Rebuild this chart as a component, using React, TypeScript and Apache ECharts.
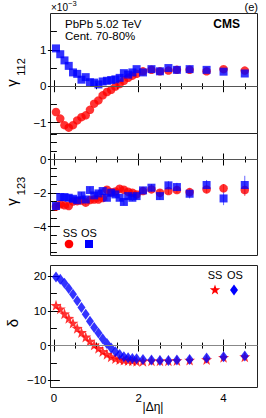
import React, { useEffect, useRef } from "react";
import * as echarts from "echarts";

// |Δη| bin centres
const deta = [0.05, 0.15, 0.25, 0.35, 0.45, 0.55, 0.65, 0.75, 0.85, 0.95, 1.05, 1.15, 1.25, 1.35, 1.45, 1.55, 1.65, 1.75, 1.85, 1.95, 2.1, 2.3, 2.5, 2.7, 2.9, 3.2, 3.6, 4.0, 4.5];

// γ112 (×10^-3)
const g112SS = [-0.71, -0.89, -1.07, -1.14, -1.07, -0.94, -0.85, -0.8, -0.65, -0.48, -0.39, -0.25, -0.16, -0.1, -0.01, 0.06, 0.15, 0.23, 0.29, 0.34, 0.41, 0.45, 0.41, 0.43, 0.45, 0.45, 0.41, 0.47, 0.43];
const g112OS = [1.04, 0.88, 0.71, 0.56, 0.38, 0.34, 0.18, 0.25, 0.11, 0.1, 0.05, 0.13, 0.15, 0.17, 0.19, 0.23, 0.36, 0.32, 0.38, 0.47, 0.38, 0.47, 0.41, 0.5, 0.45, 0.47, 0.45, 0.4, 0.35];

// γ123 (×10^-3)
const g123SS = [-2.81, -2.67, -2.73, -2.77, -2.5, -2.48, -2.45, -2.57, -2.42, -2.38, -2.38, -2.3, -1.8, -1.95, -1.9, -1.74, -1.8, -1.92, -1.98, -2.08, -1.88, -1.78, -1.98, -1.88, -1.82, -1.94, -1.78, -1.72, -1.82];
const g123SSerr = [0.15, 0.15, 0.15, 0.15, 0.15, 0.15, 0.15, 0.15, 0.15, 0.15, 0.15, 0.15, 0.15, 0.15, 0.15, 0.15, 0.15, 0.15, 0.15, 0.15, 0.15, 0.15, 0.18, 0.18, 0.18, 0.2, 0.22, 0.25, 0.35];
const g123OS = [-2.77, -2.24, -2.24, -2.28, -2.34, -2.43, -2.14, -2.38, -1.82, -2.14, -2.02, -1.88, -2.28, -1.98, -2.08, -2.28, -2.53, -2.18, -2.28, -2.18, -1.84, -1.68, -2.18, -1.54, -1.64, -2.04, -1.52, -2.32, -1.52];
const g123OSerr = [0.2, 0.2, 0.2, 0.2, 0.2, 0.2, 0.2, 0.2, 0.2, 0.2, 0.2, 0.2, 0.2, 0.2, 0.2, 0.2, 0.2, 0.2, 0.2, 0.2, 0.2, 0.22, 0.22, 0.25, 0.25, 0.28, 0.3, 0.4, 0.55];

// δ
const deltaSS = [11.6, 10.6, 9.2, 7.9, 6.5, 5.0, 3.8, 2.5, 1.3, 0.2, -0.8, -1.7, -2.5, -3.2, -3.7, -4.0, -4.2, -4.3, -4.4, -4.5, -4.5, -4.4, -4.4, -4.4, -4.3, -4.2, -4.0, -3.4, -3.2];
const deltaOS = [19.8, 19.1, 18.0, 16.5, 14.8, 12.9, 11.0, 9.0, 7.0, 5.2, 3.6, 2.0, 0.6, -0.7, -1.8, -2.6, -3.2, -3.5, -3.7, -3.8, -4.0, -4.2, -4.3, -4.3, -4.2, -4.0, -3.6, -3.2, -3.0];

// ticks
const xMajor = [0, 2, 4];
const xMinor = [0.5, 1, 1.5, 2.5, 3, 3.5, 4.5];
const y1Major = [-1, 0, 1];
const y1Minor = [-0.5, 0.5, 1.5];
const y2Major = [-4, -2, 0];
const y2Minor = [-5.5, -5, -4.5, -3.5, -3, -2.5, -1.5, -1, -0.5, 0.5, 1, 1.5];
const y3Major = [-10, 0, 10, 20];
const y3Minor = [-5, 5, 15];

const FONT = "Liberation Sans";
const X_MIN = -0.08;
const X_MAX = 4.8;
const yRanges = [
  [-1.3, 2.0],
  [-5.72, 1.55],
  [-12.1, 23.1],
];

const zip = (xs: number[], ys: number[]) => xs.map((x, i) => [x, ys[i]]);
const zip3 = (xs: number[], ys: number[], es: number[]) => xs.map((x, i) => [x, ys[i], es[i]]);

const STAR = "path://M0,-10 L2.35,-3.24 L9.51,-3.09 L3.8,1.24 L5.88,8.09 L0,4 L-5.88,8.09 L-3.8,1.24 L-9.51,-3.09 L-2.35,-3.24 Z";

function makeAxis(gridIndex: number, position: string, min: number, max: number, values: number[], len: number, labels: boolean) {
  return {
    type: "value",
    gridIndex,
    position,
    min,
    max,
    axisLine: { show: false },
    splitLine: { show: false },
    axisTick: { show: true, inside: true, length: len, customValues: values, lineStyle: { color: "#000", width: 1 } },
    axisLabel: labels
      ? { show: true, customValues: values, fontSize: 11.5, color: "#000", fontFamily: FONT, margin: 4, formatter: (v: number) => (v < 0 ? "\u2212" + Math.abs(v) : String(v)) }
      : { show: false },
  };
}

function errSeries(gi: number, data: number[][], color: string) {
  return {
    type: "custom",
    xAxisIndex: gi * 4,
    yAxisIndex: gi * 4,
    data,
    encode: { x: 0, y: 1 },
    renderItem: (params: any, api: any) => {
      const x = api.value(0);
      const y = api.value(1);
      const e = api.value(2);
      const p1 = api.coord([x, y - e]);
      const p2 = api.coord([x, y + e]);
      return {
        type: "line",
        shape: { x1: p1[0], y1: p1[1], x2: p2[0], y2: p2[1] },
        style: { stroke: color, lineWidth: 1 },
      };
    },
    silent: true,
    z: 1,
  };
}

function zeroLine(color: string) {
  return {
    silent: true,
    symbol: "none",
    label: { show: false },
    lineStyle: { color, width: 1, type: "solid" },
    data: [{ yAxis: 0 }],
  };
}

export default function App() {
  const ref = useRef<HTMLDivElement>(null);
  useEffect(() => {
    if (!ref.current) return;
    const chart = echarts.init(ref.current, undefined, { renderer: "svg" });
    const grids = [
      { left: 50.5, top: 13.5, width: 207, height: 120 },
      { left: 50.5, top: 133.5, width: 207, height: 122 },
      { left: 50.5, top: 265.5, width: 207, height: 122 },
    ].map((g) => ({ ...g, show: true, borderColor: "#222", borderWidth: 1, backgroundColor: "transparent" }));

    const xAxis: any[] = [];
    const yAxis: any[] = [];
    const yMaj = [y1Major, y2Major, y3Major];
    const yMin = [y1Minor, y2Minor, y3Minor];
    for (let g = 0; g < 3; g++) {
      xAxis.push(makeAxis(g, "bottom", X_MIN, X_MAX, xMajor, 6, g === 2));
      xAxis.push(makeAxis(g, "bottom", X_MIN, X_MAX, xMinor, 3, false));
      xAxis.push(makeAxis(g, "top", X_MIN, X_MAX, xMajor, 6, false));
      xAxis.push(makeAxis(g, "top", X_MIN, X_MAX, xMinor, 3, false));
      const [lo, hi] = yRanges[g];
      yAxis.push(makeAxis(g, "left", lo, hi, yMaj[g], 6, true));
      yAxis.push(makeAxis(g, "left", lo, hi, yMin[g], 3, false));
      yAxis.push(makeAxis(g, "right", lo, hi, yMaj[g], 6, false));
      yAxis.push(makeAxis(g, "right", lo, hi, yMin[g], 3, false));
    }

    const txt = (x: number, y: number, text: string, size: number, opts: any = {}) => ({
      type: "text",
      x,
      y,
      rotation: opts.rotation || 0,
      style: {
        text,
        fontSize: size,
        fontFamily: FONT,
        fill: "#000",
        fontWeight: opts.bold ? "bold" : "normal",
        align: opts.align || "left",
        verticalAlign: "middle",
      },
      z: 100,
    });

    const option: any = {
      animation: false,
      textStyle: { fontFamily: FONT },
      grid: grids,
      xAxis,
      yAxis,
      series: [
        {
          type: "scatter",
          xAxisIndex: 0,
          yAxisIndex: 0,
          symbol: "circle",
          symbolSize: 8.5,
          itemStyle: { color: "#ff0000" },
          data: zip(deta, g112SS),
          markLine: zeroLine("#555"),
          z: 2,
        },
        {
          type: "scatter",
          xAxisIndex: 0,
          yAxisIndex: 0,
          symbol: "rect",
          symbolSize: 8,
          itemStyle: { color: "#0000ff" },
          data: zip(deta, g112OS),
          z: 3,
        },
        errSeries(1, zip3(deta, g123SS, g123SSerr), "#ff5555"),
        {
          type: "scatter",
          xAxisIndex: 4,
          yAxisIndex: 4,
          symbol: "circle",
          symbolSize: 8.5,
          itemStyle: { color: "#ff0000" },
          data: zip(deta, g123SS),
          markLine: zeroLine("#555"),
          z: 2,
        },
        errSeries(1, zip3(deta, g123OS, g123OSerr), "#6666ff"),
        {
          type: "scatter",
          xAxisIndex: 4,
          yAxisIndex: 4,
          symbol: "rect",
          symbolSize: 8,
          itemStyle: { color: "#0000ff" },
          data: zip(deta, g123OS),
          z: 3,
        },
        {
          type: "scatter",
          xAxisIndex: 8,
          yAxisIndex: 8,
          symbol: STAR,
          symbolSize: 11,
          itemStyle: { color: "#ff0000" },
          data: zip(deta, deltaSS),
          markLine: zeroLine("#888"),
          z: 2,
        },
        {
          type: "scatter",
          xAxisIndex: 8,
          yAxisIndex: 8,
          symbol: "diamond",
          symbolSize: [8, 11],
          itemStyle: { color: "#0000ff" },
          data: zip(deta, deltaOS),
          z: 3,
        },
      ],
      graphic: [
        txt(51, 7, "\u00d710", 10),
        txt(68, 3, "\u22123", 7.5),
        txt(258, 7, "(e)", 11, { align: "right" }),
        txt(65, 23.5, "PbPb 5.02 TeV", 11.5),
        txt(65, 35.5, "Cent. 70-80%", 11.5),
        txt(240, 23.5, "CMS", 12, { bold: true, align: "right" }),
        // y titles
        txt(11, 83, "\u03b3", 15, { rotation: Math.PI / 2, align: "center" }),
        txt(21, 67, "112", 11, { rotation: Math.PI / 2, align: "center" }),
        txt(11, 202, "\u03b3", 15, { rotation: Math.PI / 2, align: "center" }),
        txt(21, 186, "123", 11, { rotation: Math.PI / 2, align: "center" }),
        txt(12, 323, "\u03b4", 15, { rotation: Math.PI / 2, align: "center" }),
        // x title
        txt(153, 407, "|\u0394\u03b7|", 12, { align: "center" }),
        // legend panel 2
        txt(70, 233, "SS", 11, { align: "center" }),
        txt(89, 233, "OS", 11, { align: "center" }),
        { type: "circle", shape: { cx: 69, cy: 244, r: 4.3 }, style: { fill: "#ff0000" }, z: 100 },
        { type: "rect", shape: { x: 85, y: 240, width: 8, height: 8 }, style: { fill: "#0000ff" }, z: 100 },
        // legend panel 3
        txt(215, 275, "SS", 11, { align: "center" }),
        txt(235, 275, "OS", 11, { align: "center" }),
        { type: "polygon", shape: { points: [[0, -5.5], [1.3, -1.8], [5.2, -1.7], [2.1, 0.7], [3.2, 4.5], [0, 2.2], [-3.2, 4.5], [-2.1, 0.7], [-5.2, -1.7], [-1.3, -1.8]].map((p) => [p[0] + 215, p[1] + 290]) }, style: { fill: "#ff0000" }, z: 100 },
        { type: "polygon", shape: { points: [[234, 284.5], [238, 290], [234, 295.5], [230, 290]] }, style: { fill: "#0000ff" }, z: 100 },
      ],
    };
    chart.setOption(option);
    return () => chart.dispose();
  }, []);
  return <div ref={ref} style={{ position: "absolute", left: 0, top: 0, width: 266, height: 418 }} />;
}
